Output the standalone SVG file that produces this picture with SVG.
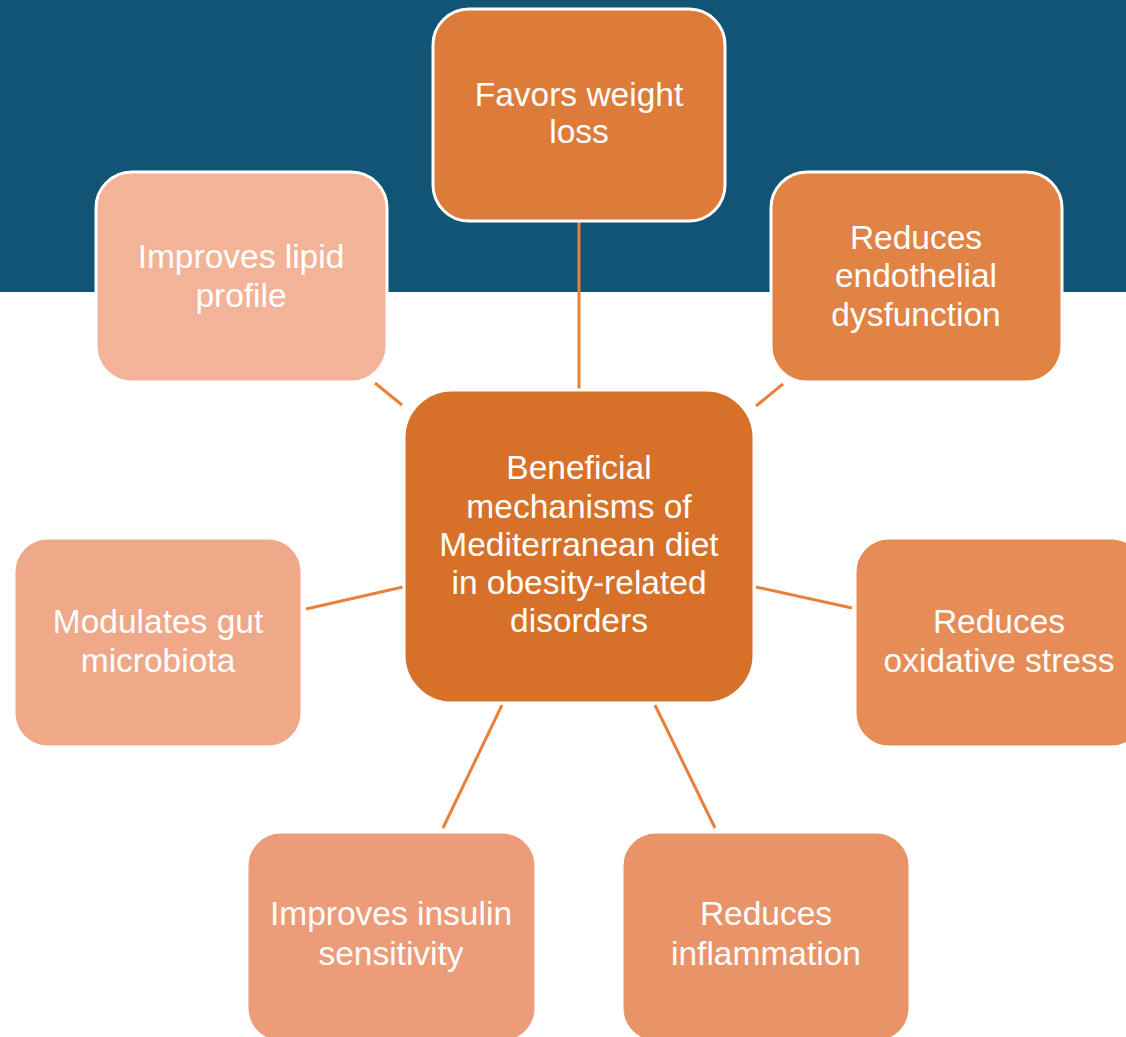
<svg xmlns="http://www.w3.org/2000/svg" width="1126" height="1037" viewBox="0 0 1126 1037">
<style>
.box{stroke:#FFFFFF;stroke-width:3}
.t{font-family:"Liberation Sans",Arial,sans-serif;font-size:33.5px;fill:#FFFFFF;text-anchor:middle}
.c{stroke:#E8803A;stroke-width:3;fill:none}
</style>
<rect x="0" y="0" width="1126" height="292" fill="#125475"/>
<g id="connectors">
<line class="c" x1="579" y1="222" x2="579" y2="389"/>
<line class="c" x1="375" y1="383" x2="402" y2="405"/>
<line class="c" x1="783" y1="384" x2="756" y2="406"/>
<line class="c" x1="306" y1="609" x2="403" y2="587"/>
<line class="c" x1="756" y1="587" x2="852" y2="608"/>
<line class="c" x1="502" y1="705" x2="443" y2="828"/>
<line class="c" x1="655" y1="705" x2="715" y2="828"/>
</g>
<g id="n-weight">
<rect class="box" x="433" y="9" width="292" height="212" rx="36" fill="#DC7B3A"/>
<text class="t" x="579" y="106">Favors weight</text>
<text class="t" x="579" y="143">loss</text>
</g>
<g id="n-lipid">
<rect class="box" x="96" y="172" width="291" height="210" rx="36" fill="#F2B398"/>
<text class="t" x="241" y="268">Improves lipid</text>
<text class="t" x="241" y="307">profile</text>
</g>
<g id="n-endothelial">
<rect class="box" x="771" y="172" width="291" height="210" rx="36" fill="#E08345"/>
<text class="t" x="916" y="249">Reduces</text>
<text class="t" x="916" y="287">endothelial</text>
<text class="t" x="916" y="326">dysfunction</text>
</g>
<g id="n-center">
<rect class="box" x="404" y="390" width="350" height="313" rx="48" fill="#D7712A"/>
<text class="t" x="579" y="479">Beneficial</text>
<text class="t" x="579" y="518">mechanisms of</text>
<text class="t" x="579" y="556">Mediterranean diet</text>
<text class="t" x="579" y="594">in obesity-related</text>
<text class="t" x="579" y="632">disorders</text>
</g>
<g id="n-gut">
<rect class="box" x="14" y="538" width="288" height="209" rx="34" fill="#EFA888"/>
<text class="t" x="158" y="633">Modulates gut</text>
<text class="t" x="158" y="672">microbiota</text>
</g>
<g id="n-oxidative">
<rect class="box" x="855" y="538" width="290" height="209" rx="34" fill="#E68C57"/>
<text class="t" x="999" y="633">Reduces</text>
<text class="t" x="999" y="672">oxidative stress</text>
</g>
<g id="n-insulin">
<rect class="box" x="247" y="832" width="289" height="210" rx="34" fill="#EC9C79"/>
<text class="t" x="391" y="925">Improves insulin</text>
<text class="t" x="391" y="965">sensitivity</text>
</g>
<g id="n-inflammation">
<rect class="box" x="622" y="832" width="288" height="210" rx="34" fill="#E89468"/>
<text class="t" x="766" y="925">Reduces</text>
<text class="t" x="766" y="965">inflammation</text>
</g>
</svg>
